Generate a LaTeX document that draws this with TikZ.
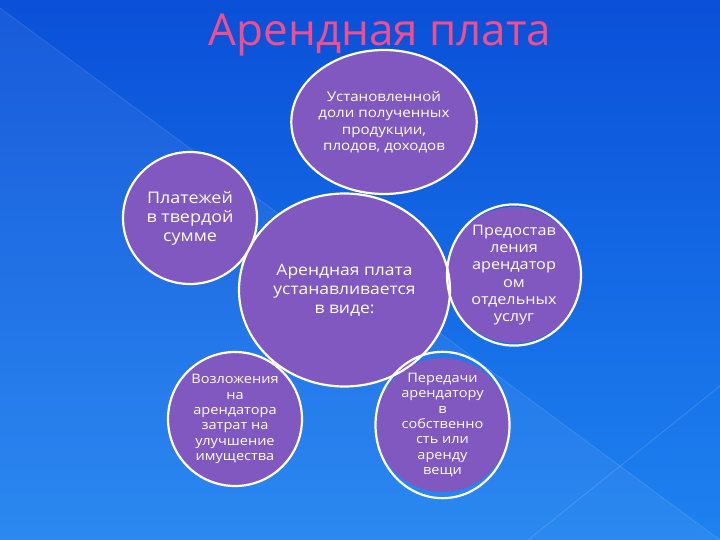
\documentclass[tikz,border=0pt]{standalone}
\usepackage{fontspec}
\setmainfont{Open Sans}
\newfontfamily\bubfont[FakeStretch=1.12]{Open Sans}
\usetikzlibrary{shapes.geometric}
\pgfdeclarelayer{bg}
\pgfdeclarelayer{fills}
\pgfsetlayers{bg,fills,main}
\definecolor{bgtop}{RGB}{10,80,216}
\definecolor{bgbot}{RGB}{30,130,240}
\definecolor{bub}{RGB}{128,88,192}
\definecolor{titlec}{RGB}{240,78,140}
\newcommand{\mkbubble}[7][]{%
  \node[bubble, minimum width={2*#5pt}, minimum height={2*#6pt}, #1] (#2) at (#3,#4) {#7};
  \begin{pgfonlayer}{fills}\fill[bub] (#2.center) ellipse [x radius=#5, y radius=#6];\end{pgfonlayer}}
\begin{document}
\begin{tikzpicture}[x=1pt, y=-1pt,
  bubble/.style={ellipse, draw=white, line width=2.2pt, text=white, align=center, inner sep=0pt},
  ftop/.style={font=\bubfont\fontsize{13.5}{16.5}\selectfont},
  fsmall/.style={font=\bubfont\fontsize{13}{15.3}\selectfont},
  fmid/.style={font=\bubfont\fontsize{14.5}{17.2}\selectfont},
  fleft/.style={font=\bubfont\fontsize{16}{19}\selectfont},
  fcenter/.style={font=\bubfont\fontsize{15.6}{19}\selectfont}]
\useasboundingbox (0,0) rectangle (720,540);
\begin{pgfonlayer}{bg}
  \shade[top color=bgtop, bottom color=bgbot] (0,0) rectangle (720,540);
  \fill[white, opacity=0.06] (0,8) -- (720,540) -- (0,540) -- cycle;
  \draw[white, opacity=0.12, line width=0.8pt] (0,8) -- (720,540);
  \draw[white, opacity=0.15, line width=0.8pt] (720,386) -- (528,540);
\end{pgfonlayer}
\node[font=\fontsize{44}{44}\selectfont, text=titlec, anchor=base] (title) at (380,46) {Арендная плата};
\mkbubble[ftop]{top}{384}{122}{92}{72}{Установленной\\доли полученных\\продукции,\\плодов, доходов}
\mkbubble[fleft]{left}{190}{218}{67}{66}{Платежей\\в твердой\\сумме}
\mkbubble[fmid]{right}{514}{275}{67}{68}{Предостав\\ления\\арендатор\\ом\\отдельных\\услуг}
\mkbubble[fsmall]{bl}{235}{419}{67}{67}{Возложения\\на\\арендатора\\затрат на\\улучшение\\имущества}
\mkbubble[fsmall]{br}{442.5}{425}{67}{67}{Передачи\\арендатору\\в\\собственно\\сть или\\аренду\\вещи}
\mkbubble[fcenter]{center}{344.5}{290}{105.5}{96.5}{Арендная плата\\устанавливается\\в виде:}
\end{tikzpicture}
\end{document}
